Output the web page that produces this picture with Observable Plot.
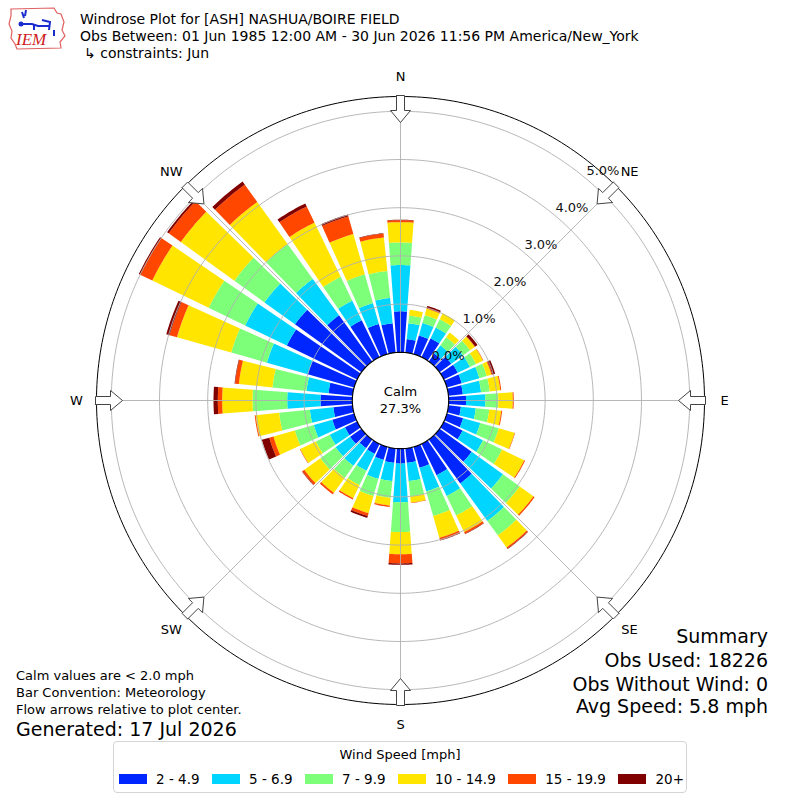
<!DOCTYPE html>
<html>
<head>
<meta charset="utf-8">
<script src="https://cdn.jsdelivr.net/npm/d3@7"></script>
<script src="https://cdn.jsdelivr.net/npm/@observablehq/plot@0.6"></script>
<style>
  body { margin: 0; background: #fff; }
  #wrap { position: relative; width: 800px; height: 800px; overflow: hidden; font-family: "DejaVu Sans", sans-serif; color: #000; }
  #chart { position: absolute; left: 0; top: 0; }
  .t { position: absolute; white-space: pre; }
  #legend { position: absolute; left: 113px; top: 741px; width: 574px; height: 52px; border: 1px solid #d4d4d4; border-radius: 4px; box-sizing: border-box; background: #fff; }
  #legend .lt { position: absolute; left: 0; right: 0; top: 4px; text-align: center; font-size: 13px; line-height: 17px; white-space: nowrap; }
  #legend .row { position: absolute; left: 5px; top: 29px; display: flex; align-items: center; font-size: 13.5px; line-height: 16px; white-space: nowrap; width: 600px; }
  #legend .sw { width: 28px; height: 10px; margin-right: 9px; flex: 0 0 auto; }
  #legend .lab { margin-right: 12.5px; flex: 0 0 auto; white-space: nowrap; }
</style>
</head>
<body>
<div id="wrap">
  <div id="chart"></div>
  <svg class="t" style="left:4px;top:4px" width="64" height="48" viewBox="0 0 64 48">
    <path d="M7,5 L50,4 L53,9 L57,10 L60,18 L58,26 L61,32 L56,38 L57,44 L13,45 L11,40 L7,34 L8,27 L5,20 L7,12 Z" fill="none" stroke="#e06060" stroke-width="1.2"/>
    <path d="M18,8 L20,14 M22,6 L21,12 M16,20 L28,20 L34,22 L46,22 M38,16 L46,18 L45,26 M30,20 L30,26 M50,26 L50,32" stroke="#1a2bd0" stroke-width="2" fill="none"/>
    <circle cx="17" cy="20" r="2.5" fill="#1a2bd0"/>
    <text x="12" y="41" font-family="Liberation Serif, serif" font-style="italic" font-size="17" fill="#d02020">IEM</text>
  </svg>
  <div class="t" style="left:80px;top:11px;font-size:14px;line-height:17px">Windrose Plot for [ASH] NASHUA/BOIRE FIELD</div>
  <div class="t" style="left:80px;top:28px;font-size:14px;line-height:17px">Obs Between: 01 Jun 1985 12:00 AM - 30 Jun 2026 11:56 PM America/New_York</div>
  <div class="t" style="left:84px;top:45px;font-size:14px;line-height:17px">↳ constraints: Jun</div>

  <div class="t" style="left:16px;top:668px;font-size:13px;line-height:16px">Calm values are &lt; 2.0 mph</div>
  <div class="t" style="left:16px;top:685px;font-size:13px;line-height:16px">Bar Convention: Meteorology</div>
  <div class="t" style="left:16px;top:702px;font-size:13px;line-height:16px">Flow arrows relative to plot center.</div>
  <div class="t" style="left:16px;top:717px;font-size:19px;line-height:24px">Generated: 17 Jul 2026</div>

  <div class="t" style="right:32px;top:624px;font-size:19px;line-height:24px;text-align:right">Summary</div>
  <div class="t" style="right:32px;top:648px;font-size:19px;line-height:24px;text-align:right">Obs Used: 18226</div>
  <div class="t" style="right:32px;top:672px;font-size:19px;line-height:24px;text-align:right">Obs Without Wind: 0</div>
  <div class="t" style="right:32px;top:694px;font-size:19px;line-height:24px;text-align:right">Avg Speed: 5.8 mph</div>

  <div id="legend"><div class="lt">Wind Speed [mph]</div><div class="row" id="legrow"></div></div>
</div>
<script>
// ---------------- data (percent of all observations) ----------------
const directions = [0,10,20,30,40,50,60,70,80,90,100,110,120,130,140,150,160,170,
                    180,190,200,210,220,230,240,250,260,270,280,290,300,310,320,330,340,350];
const speedBins = ["2 - 4.9", "5 - 6.9", "7 - 9.9", "10 - 14.9", "15 - 19.9", "20+"];
const binColors = ["#0026ff", "#00d5ff", "#7dff7a", "#ffe500", "#ff4700", "#800000"];

const pct_2_4_9 = [0.85,0.28,0.40,0.43,0.20,0.30,0.32,0.32,0.30,0.36,0.26,0.35,0.43,0.82,1.12,0.72,0.45,0.30,
                   0.31,0.30,0.28,0.23,0.22,0.29,0.28,0.47,0.40,0.66,0.50,1.00,1.62,1.70,1.18,0.85,0.65,0.61];
const pct_5_6_9 = [0.96,0.33,0.27,0.25,0.21,0.30,0.28,0.38,0.38,0.40,0.31,0.37,0.47,0.80,0.96,0.48,0.51,0.38,
                   0.80,0.38,0.41,0.39,0.45,0.37,0.35,0.40,0.49,0.69,0.46,0.88,0.96,0.78,0.93,0.45,0.45,0.53];
const pct_7_9_9 = [0.47,0.16,0.17,0.19,0.21,0.18,0.14,0.16,0.18,0.27,0.28,0.40,0.44,0.43,0.37,0.45,0.53,0.32,
                   0.62,0.35,0.37,0.33,0.31,0.39,0.32,0.41,0.64,0.72,0.71,0.77,0.84,0.77,0.89,0.55,0.62,0.56];
const pct_10_14_9 = [0.42,0.12,0.14,0.14,0.12,0.12,0.16,0.10,0.22,0.30,0.25,0.34,0.51,0.35,0.31,0.38,0.47,0.13,
                     0.46,0.16,0.37,0.30,0.38,0.41,0.36,0.46,0.49,0.63,0.70,1.17,1.30,1.37,1.08,1.25,0.87,0.70];
const pct_15_19_9 = [0.04,0.00,0.02,0.00,0.00,0.01,0.01,0.02,0.02,0.02,0.02,0.01,0.02,0.03,0.03,0.04,0.05,0.01,
                     0.19,0.03,0.06,0.03,0.04,0.05,0.01,0.09,0.02,0.09,0.08,0.16,0.28,0.31,0.44,0.37,0.38,0.08];
const pct_20p = [0.01,0.00,0.04,0.00,0.00,0.06,0.00,0.06,0.00,0.00,0.00,0.00,0.00,0.00,0.01,0.01,0.01,0.00,
                 0.03,0.00,0.04,0.00,0.00,0.01,0.00,0.16,0.00,0.09,0.01,0.07,0.03,0.04,0.08,0.07,0.04,0.01];
const seriesByBin = [pct_2_4_9, pct_5_6_9, pct_7_9_9, pct_10_14_9, pct_15_19_9, pct_20p];

const ringTicks = [0, 1, 2, 3, 4, 5];
const compass = [["N",0],["NE",45],["E",90],["SE",135],["S",180],["SW",225],["W",270],["NW",315]];
const calmPct = 27.3;

// ---------------- geometry helpers ----------------
const PX = 48.2;             // pixels per percent (sets the view size)
const HALF = 400 / PX;       // half-width of the view in percent units
const calmR = 1.0;           // radius of the calm circle (0 % ring)
const outerR = 304 / PX;     // outer frame circle
const barWidth = 8.4;        // degrees
const rad = d => d * Math.PI / 180;
const pol = (r, a) => [r * Math.sin(rad(a)), r * Math.cos(rad(a))];

function arc(r, a0, a1, n) {
  const out = [];
  for (let i = 0; i <= n; i++) out.push(pol(r, a0 + (a1 - a0) * i / n));
  return out;
}

// stacked bar segments
const barRows = [];
directions.forEach((d, i) => {
  let cum = 0;
  seriesByBin.forEach((series, j) => {
    const v = series[i];
    if (v <= 0) { return; }
    const r0 = calmR + cum, r1 = calmR + cum + v;
    cum += v;
    const pts = arc(r1, d - barWidth / 2, d + barWidth / 2, 12).concat(arc(r0, d + barWidth / 2, d - barWidth / 2, 12));
    pts.forEach(([x, y]) => barRows.push({id: d + "-" + j, bin: speedBins[j], x, y}));
  });
});

// grid rings
const ringRows = [];
ringTicks.filter(t => t > 0).forEach(t => arc(calmR + t, 0, 360, 240).forEach(([x, y]) => ringRows.push({t, x, y})));
const spokes = compass.map(([, a]) => {
  const [x1, y1] = pol(calmR, a), [x2, y2] = pol(outerR, a);
  return {x1, y1, x2, y2};
});
const calmRows = arc(calmR, 0, 360, 200).map(([x, y]) => ({x, y}));
const outerRows = arc(outerR, 0, 360, 360).map(([x, y]) => ({x, y}));

// hollow arrows pointing to the center
const arrowRows = [];
const tail = 305 / PX, tip = 278 / PX, headBase = 290 / PX, hw = 4 / PX, HW = 10 / PX;
compass.forEach(([lab, a]) => {
  const u = [Math.sin(rad(a)), Math.cos(rad(a))], v = [Math.cos(rad(a)), -Math.sin(rad(a))];
  const shape = [[tail, -hw], [headBase, -hw], [headBase, -HW], [tip, 0], [headBase, HW], [headBase, hw], [tail, hw], [tail, -hw]];
  shape.forEach(([r, s]) => arrowRows.push({lab, x: r * u[0] + s * v[0], y: r * u[1] + s * v[1]}));
});

const ringLabels = ringTicks.map(t => {
  const [x, y] = pol(calmR + t, 40);
  return {x, y, text: t.toFixed(1) + "%"};
});
const dirLabels = compass.map(([lab, a]) => {
  const [x, y] = pol(324 / PX, a);
  return {x, y, lab};
});

const chart = Plot.plot({
  width: 800,
  height: 800,
  margin: 0,
  x: {domain: [-HALF, HALF], axis: null},
  y: {domain: [-HALF, HALF], axis: null},
  color: {domain: speedBins, range: binColors},
  style: {fontFamily: "DejaVu Sans, sans-serif", fontSize: "13px", background: "transparent", color: "#000"},
  marks: [
    Plot.line(barRows, {x: "x", y: "y", z: "id", fill: "bin", stroke: "none", curve: "linear"}),
    Plot.line(ringRows, {x: "x", y: "y", z: "t", stroke: "#b0b0b0", strokeWidth: 0.9, curve: "linear"}),
    Plot.link(spokes, {x1: "x1", y1: "y1", x2: "x2", y2: "y2", stroke: "#b0b0b0", strokeWidth: 0.9}),
    Plot.line(calmRows, {x: "x", y: "y", fill: "white", stroke: "black", strokeWidth: 1.2, curve: "linear"}),
    Plot.line(outerRows, {x: "x", y: "y", stroke: "black", strokeWidth: 1, curve: "linear"}),
    Plot.line(arrowRows, {x: "x", y: "y", z: "lab", fill: "white", stroke: "#444", strokeWidth: 1, curve: "linear"}),
    Plot.text(ringLabels, {x: "x", y: "y", text: "text", textAnchor: "start", lineAnchor: "bottom", dy: -4, fontSize: 13, fill: "#111"}),
    Plot.text(dirLabels, {x: "x", y: "y", text: "lab", fontSize: 13, fill: "#000"}),
    Plot.text([`Calm\n${calmPct.toFixed(1)}%`], {x: 0, y: 0.03, text: d => d, fontSize: 13, lineHeight: 1.3, fill: "#000"})
  ]
});
document.getElementById("chart").appendChild(chart);

// legend built from the bins and colors
const row = document.getElementById("legrow");
speedBins.forEach((b, j) => {
  const sw = document.createElement("span");
  sw.className = "sw";
  sw.style.background = binColors[j];
  const lab = document.createElement("span");
  lab.className = "lab";
  lab.textContent = b;
  row.appendChild(sw);
  row.appendChild(lab);
});
</script>
</body>
</html>
